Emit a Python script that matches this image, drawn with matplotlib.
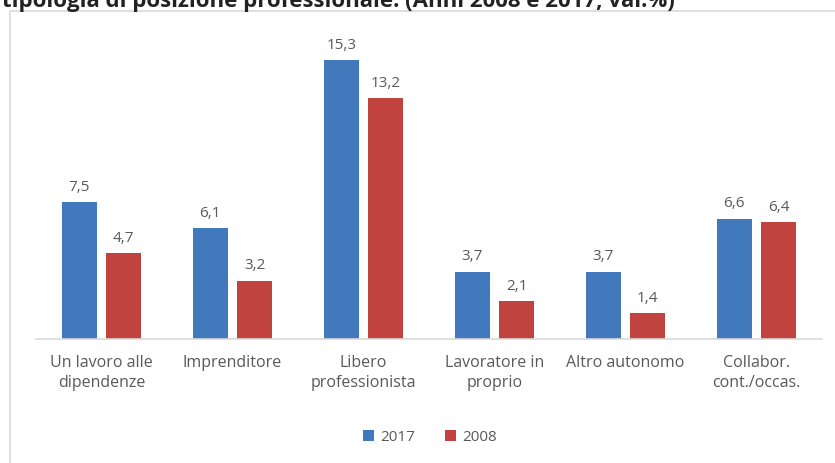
import numpy as np
import matplotlib.pyplot as plt
from matplotlib.patches import Rectangle

categories = ["Un lavoro alle\ndipendenze", "Imprenditore", "Libero\nprofessionista",
              "Lavoratore in\nproprio", "Altro autonomo", "Collabor.\ncont./occas."]
v2017 = [7.5, 6.1, 15.3, 3.7, 3.7, 6.6]
v2008 = [4.7, 3.2, 13.2, 2.1, 1.4, 6.4]
years = ["2017", "2008"]

blue = '#4279bc'
red = '#c0433f'
grey = '#595959'

plt.rcParams['font.family'] = ['Open Sans', 'DejaVu Sans']

W, H = 835, 464
fig = plt.figure(figsize=(W / 100, H / 100), dpi=100)

# outer chart frame (partly cut off)
fig.patches.append(Rectangle((10 / W, -0.1), 1.0, (H - 12) / H + 0.1,
                             transform=fig.transFigure, fill=False,
                             edgecolor='#d9d9d9', lw=1.2))

# title of the page, cut off at the top edge as in the source
fig.text(2 / W, 1 - 7 / H, "tipologia di posizione professionale. (Anni 2008 e 2017, val.%)",
         fontsize=16, fontweight='bold', color='#222222', ha='left', va='baseline')

ax = fig.add_axes([36 / W, 124 / H, 786 / W, 310 / H])
x = np.arange(len(categories))
bw = 0.267
off = 0.17
b1 = ax.bar(x - off, v2017, bw, color=blue, label=years[0])
b2 = ax.bar(x + off, v2008, bw, color=red, label=years[1])

for bars, vals in ((b1, v2017), (b2, v2008)):
    for b, v in zip(bars, vals):
        ax.text(b.get_x() + b.get_width() / 2, v + 0.45, f"{v:.1f}".replace('.', ','),
                ha='center', va='bottom', fontsize=11, color=grey)

ax.set_xlim(-0.5, len(categories) - 0.5)
ax.set_ylim(0, 17)
ax.set_yticks([])
ax.set_xticks(x)
ax.set_xticklabels(categories, fontsize=11.5, color=grey, linespacing=1.3)
ax.tick_params(axis='x', length=0, pad=11)
for s in ['top', 'right', 'left']:
    ax.spines[s].set_visible(False)
ax.spines['bottom'].set_color('#d9d9d9')
ax.spines['bottom'].set_linewidth(1.2)

leg = fig.legend(loc='center', bbox_to_anchor=(430 / W, 1 - 438 / H), ncol=2,
                 frameon=False, fontsize=11, handlelength=0.7, handleheight=0.7,
                 columnspacing=2.0, handletextpad=0.4)
for t in leg.get_texts():
    t.set_color(grey)

fig.savefig("out.png", dpi=100)
